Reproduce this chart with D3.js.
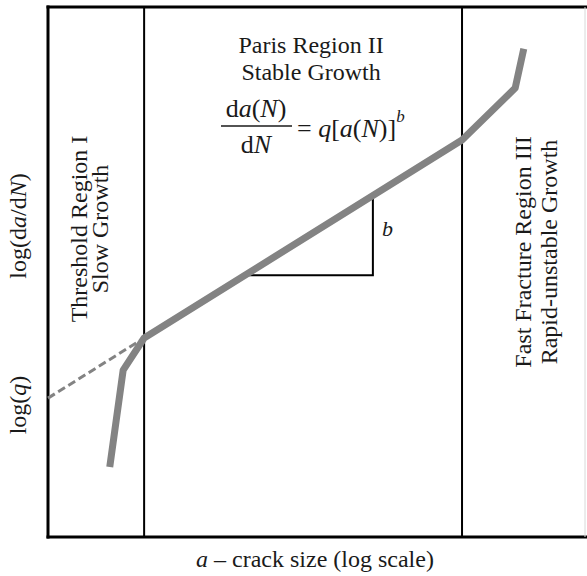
<!DOCTYPE html>
<html>
<head>
<meta charset="utf-8">
<title>Fatigue crack growth regions</title>
<style>
body { margin: 0; background: #fff; }
svg { font-family: "Liberation Serif", "Times New Roman", serif; }
.box { stroke: #000; stroke-width: 3px; }
.divider { stroke: #000; stroke-width: 2px; }
.curve { fill: none; stroke: #838383; stroke-width: 7px; stroke-linejoin: round; }
.extrap { fill: none; stroke: #838383; stroke-width: 3px; stroke-dasharray: 8,4; }
.slope { fill: none; stroke: #000; stroke-width: 2px; }
text { fill: #1a1a1a; font-size: 24px; }
.eq { font-size: 26px; }
</style>
</head>
<body>
<script src="https://d3js.org/d3.v7.min.js"></script>
<script>
var W = 587, H = 576;

// logical units: x = log(a), y = log(da/dN), both 0..10
var growthCurve = [[1.15, 1.32], [1.40, 3.15], [1.79, 3.755], [7.71, 7.49], [8.70, 8.47], [8.86, 9.21]];
var extrapolation = [[0, 2.62], [1.79, 3.755]];
var slopeTriangle = [[3.71, 4.94], [6.05, 4.94], [6.05, 6.42]];
var regionBounds = [1.79, 7.71];

var xs = d3.scaleLinear().domain([0, 10]).range([48, 585]),
    ys = d3.scaleLinear().domain([0, 10]).range([537, 7]);

var svg = d3.select("body").append("svg")
    .attr("width", W)
    .attr("height", H);

// frame
svg.append("line").attr("class", "box")
    .attr("x1", xs(0)).attr("x2", xs(0)).attr("y1", ys(10) - 1.5).attr("y2", ys(0) + 1.5);
svg.append("line").attr("class", "box")
    .attr("x1", xs(0) - 1.5).attr("x2", W).attr("y1", ys(10)).attr("y2", ys(10));
svg.append("line").attr("class", "box")
    .attr("x1", xs(0) - 1.5).attr("x2", W).attr("y1", ys(0)).attr("y2", ys(0));
svg.append("line")
    .attr("x1", xs(10)).attr("x2", xs(10)).attr("y1", ys(10)).attr("y2", ys(0))
    .attr("stroke", "#d8d8d8").attr("stroke-width", 1);

// region dividers
svg.selectAll(".divider").data(regionBounds).enter().append("line")
    .attr("class", "divider")
    .attr("x1", d => xs(d)).attr("x2", d => xs(d))
    .attr("y1", ys(10)).attr("y2", ys(0));

var line = d3.line().x(d => xs(d[0])).y(d => ys(d[1]));

svg.append("path").attr("class", "extrap").attr("d", line(extrapolation));
svg.append("path").attr("class", "slope").attr("d", line(slopeTriangle));
svg.append("path").attr("class", "curve").attr("d", line(growthCurve));

// slope label
svg.append("text")
    .attr("x", xs(slopeTriangle[1][0]) + 9)
    .attr("y", 236)
    .style("font-style", "italic")
    .style("font-size", "22px")
    .text("b");

// region II title
var midII = (xs(regionBounds[0]) + xs(regionBounds[1])) / 2 + 8;
svg.append("text").attr("x", midII).attr("y", 53).attr("text-anchor", "middle").text("Paris Region II");
svg.append("text").attr("x", midII).attr("y", 80).attr("text-anchor", "middle").text("Stable Growth");

// Paris law
var fx = 256;
var num = svg.append("text").attr("class", "eq").attr("x", fx).attr("y", 117).attr("text-anchor", "middle");
num.append("tspan").text("d");
num.append("tspan").style("font-style", "italic").text("a");
num.append("tspan").text("(");
num.append("tspan").style("font-style", "italic").text("N");
num.append("tspan").text(")");
svg.append("line").attr("x1", 221).attr("x2", 292).attr("y1", 126).attr("y2", 126)
    .attr("stroke", "#1a1a1a").attr("stroke-width", 1.5);
var den = svg.append("text").attr("class", "eq").attr("x", fx).attr("y", 153).attr("text-anchor", "middle");
den.append("tspan").text("d");
den.append("tspan").style("font-style", "italic").text("N");
var rhs = svg.append("text").attr("class", "eq").attr("x", 297).attr("y", 137);
rhs.append("tspan").text("= ");
rhs.append("tspan").style("font-style", "italic").text("q");
rhs.append("tspan").text("[");
rhs.append("tspan").style("font-style", "italic").text("a");
rhs.append("tspan").text("(");
rhs.append("tspan").style("font-style", "italic").text("N");
rhs.append("tspan").text(")]");
rhs.append("tspan").attr("dy", -15).style("font-style", "italic").style("font-size", "17px").text("b");

// vertical labels
function vtext(x, y, parts) {
  var t = svg.append("text")
      .attr("transform", "translate(" + x + "," + y + ") rotate(-90)")
      .attr("text-anchor", "middle");
  parts.forEach(function(p) {
    t.append("tspan").style("font-style", p[1] ? "italic" : null).text(p[0]);
  });
  return t;
}

vtext(87, 229, [["Threshold Region I"]]);
vtext(108, 229, [["Slow Growth"]]);
vtext(531, 252, [["Fast Fracture Region III"]]);
vtext(557, 252, [["Rapid-unstable Growth"]]);
vtext(26, 226, [["log(d"], ["a", true], ["/d"], ["N", true], [")"]]);
vtext(26, 405, [["log("], ["q", true], [")"]]);

// x-axis title
var xt = svg.append("text").attr("x", 315).attr("y", 567).attr("text-anchor", "middle");
xt.append("tspan").style("font-style", "italic").text("a");
xt.append("tspan").text(" \u2013 crack size (log scale)");
</script>
</body>
</html>
